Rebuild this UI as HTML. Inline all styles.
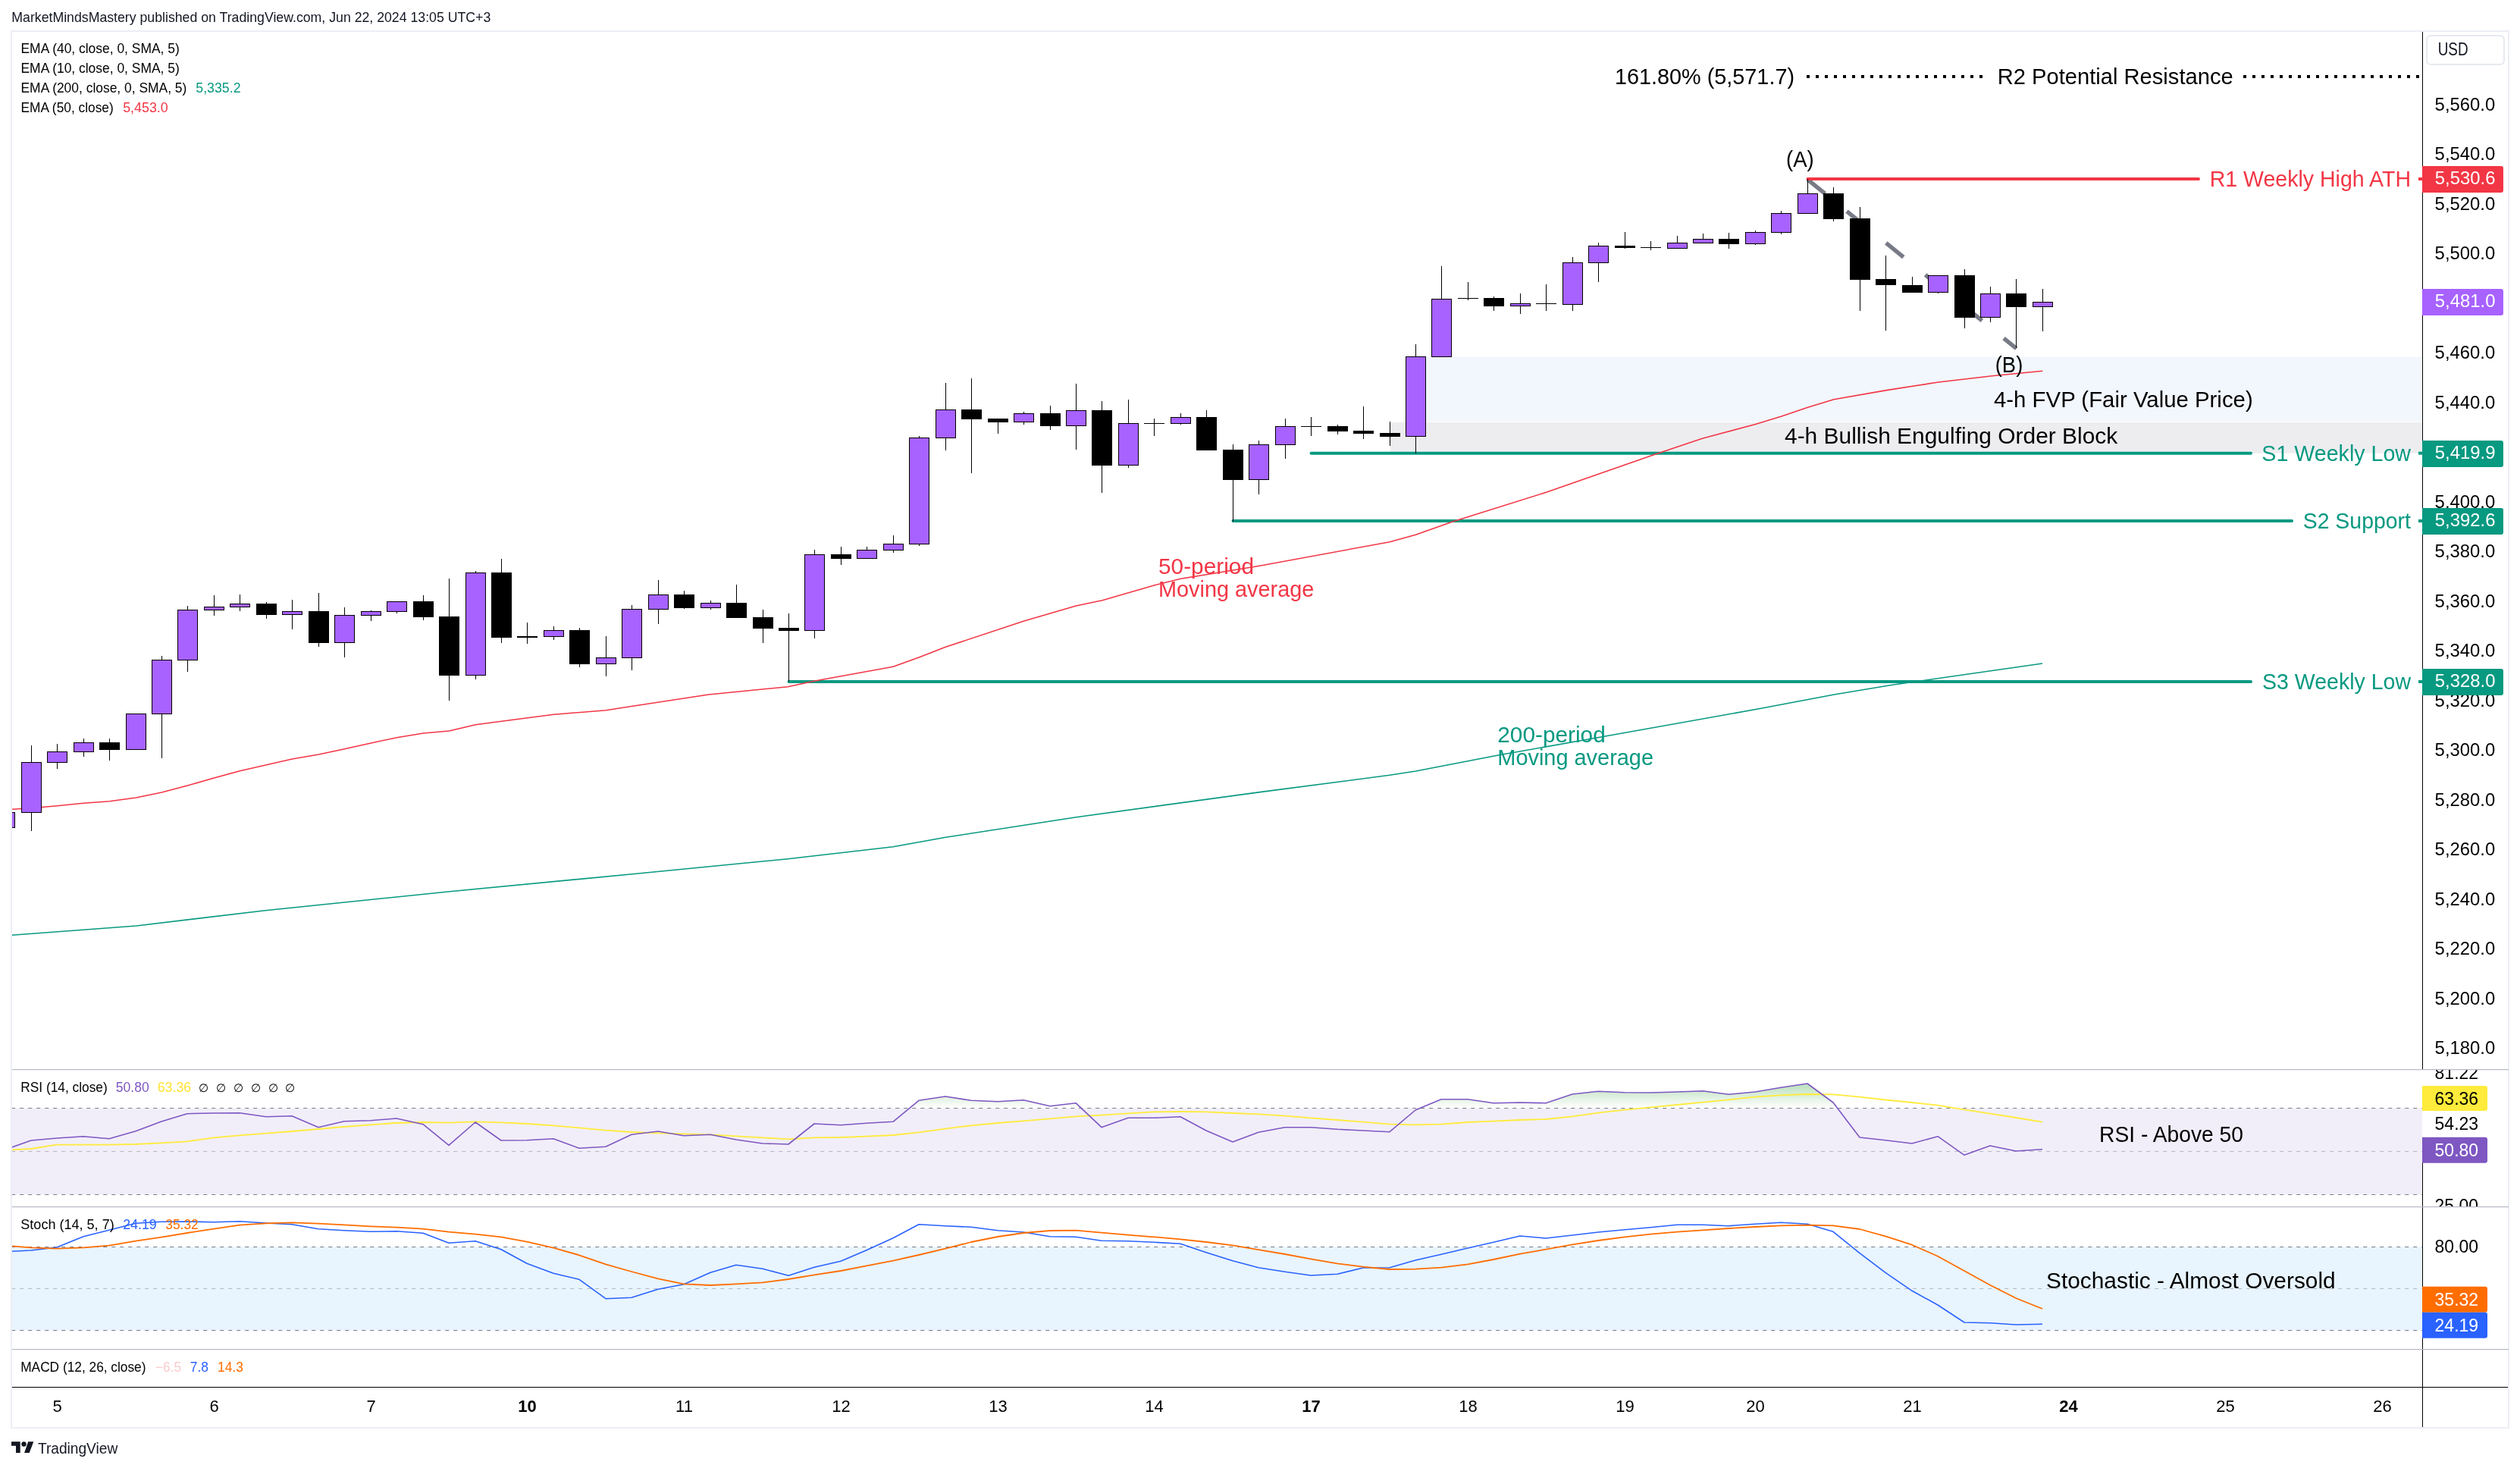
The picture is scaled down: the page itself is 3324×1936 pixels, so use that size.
<!DOCTYPE html>
<html><head><meta charset="utf-8"><title>TradingView chart</title>
<style>html,body{margin:0;padding:0;background:#fff}svg{display:block}text{font-family:'Liberation Sans', sans-serif}</style>
</head><body>
<svg width="3324" height="1936" viewBox="0 0 3324 1936">
<defs>
<clipPath id="cm"><rect x="16" y="42" width="3179" height="1369"/></clipPath>
<clipPath id="crsi"><rect x="16" y="1411" width="3293" height="180"/></clipPath>
<clipPath id="cst"><rect x="16" y="1592" width="3293" height="187"/></clipPath>
<linearGradient id="gob" gradientUnits="userSpaceOnUse" x1="0" y1="1410" x2="0" y2="1461.5">
<stop offset="0" stop-color="#4caf50" stop-opacity="0.62"/><stop offset="1" stop-color="#4caf50" stop-opacity="0"/></linearGradient>
<mask id="mall" maskUnits="userSpaceOnUse" x="0" y="0" width="3324" height="1936"><rect width="3324" height="1936" fill="#fff"/></mask>
</defs>
<rect width="3324" height="1936" fill="#fff"/>
<g mask="url(#mall)">
<text x="15.3" y="29.2" font-size="18.1" fill="#131722" textLength="632.0" lengthAdjust="spacingAndGlyphs">MarketMindsMastery published on TradingView.com, Jun 22, 2024 13:05 UTC+3</text>
<rect x="15" y="41" width="3294" height="1842" fill="#fff" stroke="#eceef5" stroke-width="2"/>
<g clip-path="url(#cm)">
<rect x="1867" y="470.7" width="1328" height="85.2" fill="#f2f6fd"/>
<rect x="1834" y="557" width="1361" height="40.7" fill="#ededf0"/>
<line x1="2384.2" y1="236.7" x2="2659.7" y2="459.6" stroke="#787b86" stroke-width="5.5" stroke-dasharray="29.7 36.9"/>
<g stroke-width="4" stroke-linecap="round">
<line x1="2384.5" y1="236" x2="2900" y2="236" stroke="#f23645"/>
<line x1="1729.5" y1="597.7" x2="2969" y2="597.7" stroke="#089981"/>
<line x1="1626.5" y1="687" x2="3023" y2="687" stroke="#089981"/>
<line x1="1040.5" y1="899" x2="2969" y2="899" stroke="#089981"/>
</g>
<line x1="3190" y1="236" x2="3195" y2="236" stroke="#f23645" stroke-width="4"/>
<line x1="3190" y1="597.7" x2="3195" y2="597.7" stroke="#089981" stroke-width="4"/>
<line x1="3190" y1="687" x2="3195" y2="687" stroke="#089981" stroke-width="4"/>
<line x1="3190" y1="899" x2="3195" y2="899" stroke="#089981" stroke-width="4"/>
<line x1="2383" y1="101" x2="2616" y2="101" stroke="#000" stroke-width="4" stroke-dasharray="4 8"/>
<line x1="2959" y1="101" x2="3195" y2="101" stroke="#000" stroke-width="4" stroke-dasharray="4 8"/>
<polyline fill="none" stroke="#089981" stroke-width="1.6" stroke-linejoin="round" points="15.3,1233.3 180.0,1221.0 350.0,1200.7 593.3,1175.7 834.0,1152.7 1039.0,1132.7 1178.0,1116.7 1247.3,1104.3 1419.3,1077.7 1662.0,1044.6 1833.0,1022.3 1867.3,1017.0 1976.0,996.0 2122.7,970.0 2322.7,934.3 2419.3,916.0 2496.0,903.3 2694.0,875.0"/>
<polyline fill="none" stroke="#f23645" stroke-width="1.6" stroke-linejoin="round" points="15.3,1067.3 41.3,1065.7 75.3,1062.7 110.0,1059.3 144.3,1056.7 179.3,1052.0 213.3,1045.0 247.3,1036.0 282.3,1026.0 316.3,1016.7 351.3,1008.7 385.3,1001.0 420.3,995.0 454.3,987.7 489.3,980.0 523.3,972.7 558.3,967.0 592.3,964.0 627.3,955.7 661.3,951.3 730.3,942.3 799.3,936.7 828.0,932.3 934.7,916.0 1039.0,905.7 1075.0,898.0 1178.0,879.3 1212.7,866.7 1247.3,853.3 1350.7,819.0 1419.3,799.0 1454.0,791.7 1523.0,771.7 1557.3,763.3 1660.0,746.5 1833.0,714.7 1867.3,705.3 1916.0,688.0 2039.5,649.3 2180.0,600.3 2245.4,578.2 2315.6,559.5 2350.0,548.9 2384.5,537.3 2419.0,526.8 2488.6,514.6 2555.0,504.3 2627.8,495.7 2694.3,489.3"/>
<g shape-rendering="crispEdges">
<rect x="6" y="1071" width="1" height="21" fill="#000"/>
<rect x="-7" y="1071" width="27" height="21" fill="#000"/>
<rect x="-6" y="1072" width="25" height="19" fill="#a762ff"/>
<rect x="41" y="983" width="1" height="113" fill="#000"/>
<rect x="28" y="1005" width="27" height="67" fill="#000"/>
<rect x="29" y="1006" width="25" height="65" fill="#a762ff"/>
<rect x="75" y="981" width="1" height="33" fill="#000"/>
<rect x="62" y="991" width="27" height="15" fill="#000"/>
<rect x="63" y="992" width="25" height="13" fill="#a762ff"/>
<rect x="110" y="974" width="1" height="24" fill="#000"/>
<rect x="97" y="979" width="27" height="13" fill="#000"/>
<rect x="98" y="980" width="25" height="11" fill="#a762ff"/>
<rect x="144" y="974" width="1" height="29" fill="#000"/>
<rect x="131" y="979" width="27" height="10" fill="#000"/>
<rect x="179" y="941" width="1" height="48" fill="#000"/>
<rect x="166" y="941" width="27" height="48" fill="#000"/>
<rect x="167" y="942" width="25" height="46" fill="#a762ff"/>
<rect x="213" y="865" width="1" height="135" fill="#000"/>
<rect x="200" y="870" width="27" height="72" fill="#000"/>
<rect x="201" y="871" width="25" height="70" fill="#a762ff"/>
<rect x="247" y="799" width="1" height="87" fill="#000"/>
<rect x="234" y="804" width="27" height="67" fill="#000"/>
<rect x="235" y="805" width="25" height="65" fill="#a762ff"/>
<rect x="282" y="785" width="1" height="27" fill="#000"/>
<rect x="269" y="800" width="27" height="5" fill="#000"/>
<rect x="270" y="801" width="25" height="3" fill="#a762ff"/>
<rect x="316" y="784" width="1" height="22" fill="#000"/>
<rect x="303" y="796" width="27" height="5" fill="#000"/>
<rect x="304" y="797" width="25" height="3" fill="#a762ff"/>
<rect x="351" y="794" width="1" height="22" fill="#000"/>
<rect x="338" y="796" width="27" height="15" fill="#000"/>
<rect x="385" y="791" width="1" height="39" fill="#000"/>
<rect x="372" y="806" width="27" height="5" fill="#000"/>
<rect x="373" y="807" width="25" height="3" fill="#a762ff"/>
<rect x="420" y="782" width="1" height="71" fill="#000"/>
<rect x="407" y="806" width="27" height="42" fill="#000"/>
<rect x="454" y="801" width="1" height="66" fill="#000"/>
<rect x="441" y="811" width="27" height="37" fill="#000"/>
<rect x="442" y="812" width="25" height="35" fill="#a762ff"/>
<rect x="489" y="805" width="1" height="14" fill="#000"/>
<rect x="476" y="806" width="27" height="6" fill="#000"/>
<rect x="477" y="807" width="25" height="4" fill="#a762ff"/>
<rect x="523" y="793" width="1" height="16" fill="#000"/>
<rect x="510" y="793" width="27" height="14" fill="#000"/>
<rect x="511" y="794" width="25" height="12" fill="#a762ff"/>
<rect x="558" y="785" width="1" height="33" fill="#000"/>
<rect x="545" y="793" width="27" height="21" fill="#000"/>
<rect x="592" y="763" width="1" height="161" fill="#000"/>
<rect x="579" y="813" width="27" height="78" fill="#000"/>
<rect x="627" y="753" width="1" height="143" fill="#000"/>
<rect x="614" y="755" width="27" height="136" fill="#000"/>
<rect x="615" y="756" width="25" height="134" fill="#a762ff"/>
<rect x="661" y="737" width="1" height="111" fill="#000"/>
<rect x="648" y="755" width="27" height="86" fill="#000"/>
<rect x="695" y="821" width="1" height="28" fill="#000"/>
<rect x="682" y="839" width="27" height="2" fill="#000"/>
<rect x="730" y="826" width="1" height="18" fill="#000"/>
<rect x="717" y="831" width="27" height="9" fill="#000"/>
<rect x="718" y="832" width="25" height="7" fill="#a762ff"/>
<rect x="764" y="828" width="1" height="52" fill="#000"/>
<rect x="751" y="831" width="27" height="45" fill="#000"/>
<rect x="799" y="839" width="1" height="53" fill="#000"/>
<rect x="786" y="867" width="27" height="9" fill="#000"/>
<rect x="787" y="868" width="25" height="7" fill="#a762ff"/>
<rect x="833" y="798" width="1" height="86" fill="#000"/>
<rect x="820" y="803" width="27" height="65" fill="#000"/>
<rect x="821" y="804" width="25" height="63" fill="#a762ff"/>
<rect x="868" y="765" width="1" height="58" fill="#000"/>
<rect x="855" y="784" width="27" height="20" fill="#000"/>
<rect x="856" y="785" width="25" height="18" fill="#a762ff"/>
<rect x="902" y="779" width="1" height="24" fill="#000"/>
<rect x="889" y="784" width="27" height="18" fill="#000"/>
<rect x="937" y="792" width="1" height="12" fill="#000"/>
<rect x="924" y="795" width="27" height="7" fill="#000"/>
<rect x="925" y="796" width="25" height="5" fill="#a762ff"/>
<rect x="971" y="771" width="1" height="44" fill="#000"/>
<rect x="958" y="795" width="27" height="20" fill="#000"/>
<rect x="1006" y="804" width="1" height="44" fill="#000"/>
<rect x="993" y="814" width="27" height="15" fill="#000"/>
<rect x="1040" y="809" width="1" height="90" fill="#000"/>
<rect x="1027" y="828" width="27" height="4" fill="#000"/>
<rect x="1074" y="725" width="1" height="117" fill="#000"/>
<rect x="1061" y="731" width="27" height="101" fill="#000"/>
<rect x="1062" y="732" width="25" height="99" fill="#a762ff"/>
<rect x="1109" y="721" width="1" height="24" fill="#000"/>
<rect x="1096" y="731" width="27" height="6" fill="#000"/>
<rect x="1143" y="721" width="1" height="16" fill="#000"/>
<rect x="1130" y="725" width="27" height="12" fill="#000"/>
<rect x="1131" y="726" width="25" height="10" fill="#a762ff"/>
<rect x="1178" y="706" width="1" height="23" fill="#000"/>
<rect x="1165" y="717" width="27" height="9" fill="#000"/>
<rect x="1166" y="718" width="25" height="7" fill="#a762ff"/>
<rect x="1212" y="575" width="1" height="145" fill="#000"/>
<rect x="1199" y="577" width="27" height="141" fill="#000"/>
<rect x="1200" y="578" width="25" height="139" fill="#a762ff"/>
<rect x="1247" y="505" width="1" height="89" fill="#000"/>
<rect x="1234" y="540" width="27" height="38" fill="#000"/>
<rect x="1235" y="541" width="25" height="36" fill="#a762ff"/>
<rect x="1281" y="499" width="1" height="125" fill="#000"/>
<rect x="1268" y="540" width="27" height="13" fill="#000"/>
<rect x="1316" y="552" width="1" height="20" fill="#000"/>
<rect x="1303" y="552" width="27" height="5" fill="#000"/>
<rect x="1350" y="543" width="1" height="17" fill="#000"/>
<rect x="1337" y="545" width="27" height="12" fill="#000"/>
<rect x="1338" y="546" width="25" height="10" fill="#a762ff"/>
<rect x="1385" y="535" width="1" height="32" fill="#000"/>
<rect x="1372" y="545" width="27" height="17" fill="#000"/>
<rect x="1419" y="506" width="1" height="87" fill="#000"/>
<rect x="1406" y="541" width="27" height="21" fill="#000"/>
<rect x="1407" y="542" width="25" height="19" fill="#a762ff"/>
<rect x="1453" y="529" width="1" height="121" fill="#000"/>
<rect x="1440" y="541" width="27" height="73" fill="#000"/>
<rect x="1488" y="527" width="1" height="90" fill="#000"/>
<rect x="1475" y="558" width="27" height="56" fill="#000"/>
<rect x="1476" y="559" width="25" height="54" fill="#a762ff"/>
<rect x="1522" y="552" width="1" height="23" fill="#000"/>
<rect x="1509" y="558" width="27" height="1" fill="#000"/>
<rect x="1557" y="545" width="1" height="15" fill="#000"/>
<rect x="1544" y="550" width="27" height="9" fill="#000"/>
<rect x="1545" y="551" width="25" height="7" fill="#a762ff"/>
<rect x="1591" y="541" width="1" height="53" fill="#000"/>
<rect x="1578" y="550" width="27" height="44" fill="#000"/>
<rect x="1626" y="586" width="1" height="102" fill="#000"/>
<rect x="1613" y="593" width="27" height="40" fill="#000"/>
<rect x="1660" y="581" width="1" height="71" fill="#000"/>
<rect x="1647" y="586" width="27" height="47" fill="#000"/>
<rect x="1648" y="587" width="25" height="45" fill="#a762ff"/>
<rect x="1695" y="552" width="1" height="53" fill="#000"/>
<rect x="1682" y="562" width="27" height="25" fill="#000"/>
<rect x="1683" y="563" width="25" height="23" fill="#a762ff"/>
<rect x="1729" y="550" width="1" height="25" fill="#000"/>
<rect x="1716" y="562" width="27" height="1" fill="#000"/>
<rect x="1764" y="560" width="1" height="13" fill="#000"/>
<rect x="1751" y="562" width="27" height="7" fill="#000"/>
<rect x="1798" y="536" width="1" height="43" fill="#000"/>
<rect x="1785" y="568" width="27" height="4" fill="#000"/>
<rect x="1833" y="556" width="1" height="32" fill="#000"/>
<rect x="1820" y="571" width="27" height="5" fill="#000"/>
<rect x="1867" y="454" width="1" height="144" fill="#000"/>
<rect x="1854" y="470" width="27" height="106" fill="#000"/>
<rect x="1855" y="471" width="25" height="104" fill="#a762ff"/>
<rect x="1901" y="351" width="1" height="120" fill="#000"/>
<rect x="1888" y="394" width="27" height="77" fill="#000"/>
<rect x="1889" y="395" width="25" height="75" fill="#a762ff"/>
<rect x="1936" y="372" width="1" height="24" fill="#000"/>
<rect x="1923" y="393" width="27" height="1" fill="#000"/>
<rect x="1970" y="391" width="1" height="19" fill="#000"/>
<rect x="1957" y="393" width="27" height="11" fill="#000"/>
<rect x="2005" y="387" width="1" height="27" fill="#000"/>
<rect x="1992" y="400" width="27" height="4" fill="#000"/>
<rect x="1993" y="401" width="25" height="2" fill="#a762ff"/>
<rect x="2039" y="375" width="1" height="35" fill="#000"/>
<rect x="2026" y="400" width="27" height="1" fill="#000"/>
<rect x="2074" y="339" width="1" height="71" fill="#000"/>
<rect x="2061" y="346" width="27" height="56" fill="#000"/>
<rect x="2062" y="347" width="25" height="54" fill="#a762ff"/>
<rect x="2108" y="320" width="1" height="52" fill="#000"/>
<rect x="2095" y="324" width="27" height="23" fill="#000"/>
<rect x="2096" y="325" width="25" height="21" fill="#a762ff"/>
<rect x="2143" y="306" width="1" height="22" fill="#000"/>
<rect x="2130" y="324" width="27" height="3" fill="#000"/>
<rect x="2177" y="318" width="1" height="12" fill="#000"/>
<rect x="2164" y="326" width="27" height="1" fill="#000"/>
<rect x="2212" y="311" width="1" height="17" fill="#000"/>
<rect x="2199" y="320" width="27" height="8" fill="#000"/>
<rect x="2200" y="321" width="25" height="6" fill="#a762ff"/>
<rect x="2246" y="308" width="1" height="13" fill="#000"/>
<rect x="2233" y="315" width="27" height="6" fill="#000"/>
<rect x="2234" y="316" width="25" height="4" fill="#a762ff"/>
<rect x="2280" y="307" width="1" height="21" fill="#000"/>
<rect x="2267" y="315" width="27" height="7" fill="#000"/>
<rect x="2315" y="304" width="1" height="19" fill="#000"/>
<rect x="2302" y="306" width="27" height="16" fill="#000"/>
<rect x="2303" y="307" width="25" height="14" fill="#a762ff"/>
<rect x="2349" y="278" width="1" height="31" fill="#000"/>
<rect x="2336" y="281" width="27" height="26" fill="#000"/>
<rect x="2337" y="282" width="25" height="24" fill="#a762ff"/>
<rect x="2384" y="236" width="1" height="46" fill="#000"/>
<rect x="2371" y="255" width="27" height="27" fill="#000"/>
<rect x="2372" y="256" width="25" height="25" fill="#a762ff"/>
<rect x="2418" y="247" width="1" height="45" fill="#000"/>
<rect x="2405" y="255" width="27" height="34" fill="#000"/>
<rect x="2453" y="273" width="1" height="137" fill="#000"/>
<rect x="2440" y="288" width="27" height="81" fill="#000"/>
<rect x="2487" y="337" width="1" height="99" fill="#000"/>
<rect x="2474" y="368" width="27" height="8" fill="#000"/>
<rect x="2522" y="365" width="1" height="21" fill="#000"/>
<rect x="2509" y="376" width="27" height="10" fill="#000"/>
<rect x="2556" y="363" width="1" height="24" fill="#000"/>
<rect x="2543" y="363" width="27" height="23" fill="#000"/>
<rect x="2544" y="364" width="25" height="21" fill="#a762ff"/>
<rect x="2591" y="355" width="1" height="78" fill="#000"/>
<rect x="2578" y="363" width="27" height="56" fill="#000"/>
<rect x="2625" y="378" width="1" height="47" fill="#000"/>
<rect x="2612" y="387" width="27" height="32" fill="#000"/>
<rect x="2613" y="388" width="25" height="30" fill="#a762ff"/>
<rect x="2659" y="368" width="1" height="91" fill="#000"/>
<rect x="2646" y="387" width="27" height="18" fill="#000"/>
<rect x="2694" y="381" width="1" height="56" fill="#000"/>
<rect x="2681" y="398" width="27" height="7" fill="#000"/>
<rect x="2682" y="399" width="25" height="5" fill="#a762ff"/>
</g>
</g>
<text x="2130.0" y="110.5" font-size="29" fill="#000" textLength="237.0" lengthAdjust="spacingAndGlyphs">161.80% (5,571.7)</text>
<text x="2634.7" y="110.5" font-size="29" fill="#000" textLength="311.0" lengthAdjust="spacingAndGlyphs">R2 Potential Resistance</text>
<text x="2356.0" y="220.0" font-size="29" fill="#000" textLength="36.7" lengthAdjust="spacingAndGlyphs">(A)</text>
<text x="2631.7" y="490.7" font-size="29" fill="#000" textLength="36.6" lengthAdjust="spacingAndGlyphs">(B)</text>
<text x="2914.7" y="245.7" font-size="29" fill="#f23645" textLength="265.3" lengthAdjust="spacingAndGlyphs">R1 Weekly High ATH</text>
<text x="2630.0" y="536.7" font-size="29" fill="#000" textLength="341.7" lengthAdjust="spacingAndGlyphs">4-h FVP (Fair Value Price)</text>
<text x="2354.0" y="585.0" font-size="29" fill="#000" textLength="439.3" lengthAdjust="spacingAndGlyphs">4-h Bullish Engulfing Order Block</text>
<text x="2983.3" y="607.9" font-size="29" fill="#089981" textLength="196.7" lengthAdjust="spacingAndGlyphs">S1 Weekly Low</text>
<text x="3037.7" y="697.1" font-size="29" fill="#089981" textLength="142.3" lengthAdjust="spacingAndGlyphs">S2 Support</text>
<text x="2984.0" y="908.9" font-size="29" fill="#089981" textLength="196.0" lengthAdjust="spacingAndGlyphs">S3 Weekly Low</text>
<text x="1528.0" y="756.7" font-size="29" fill="#f23645" textLength="126.0" lengthAdjust="spacingAndGlyphs">50-period</text>
<text x="1528.0" y="786.7" font-size="29" fill="#f23645" textLength="205.3" lengthAdjust="spacingAndGlyphs">Moving average</text>
<text x="1975.3" y="979.0" font-size="29" fill="#089981" textLength="142.4" lengthAdjust="spacingAndGlyphs">200-period</text>
<text x="1975.3" y="1009.0" font-size="29" fill="#089981" textLength="205.7" lengthAdjust="spacingAndGlyphs">Moving average</text>
<text x="27.5" y="69.7" font-size="17.8" fill="#000" textLength="209.2" lengthAdjust="spacingAndGlyphs">EMA (40, close, 0, SMA, 5)</text>
<text x="27.5" y="95.8" font-size="17.8" fill="#000" textLength="209.2" lengthAdjust="spacingAndGlyphs">EMA (10, close, 0, SMA, 5)</text>
<text x="27.5" y="122.0" font-size="17.8" fill="#000" textLength="218.8" lengthAdjust="spacingAndGlyphs">EMA (200, close, 0, SMA, 5)</text>
<text x="258.3" y="122.0" font-size="17.8" fill="#089981" textLength="59.2" lengthAdjust="spacingAndGlyphs">5,335.2</text>
<text x="27.5" y="148.0" font-size="17.8" fill="#000" textLength="122.2" lengthAdjust="spacingAndGlyphs">EMA (50, close)</text>
<text x="162.2" y="148.0" font-size="17.8" fill="#f23645" textLength="59.5" lengthAdjust="spacingAndGlyphs">5,453.0</text>
<rect x="3195" y="42" width="1" height="1840" fill="#000"/>
<rect x="3195" y="1411" width="1" height="122" fill="#fff"/>
<rect x="3201" y="47" width="102" height="38" rx="5" fill="#fff" stroke="#e0e3eb" stroke-width="1.5"/>
<text x="3215.7" y="73.3" font-size="23" fill="#131722" textLength="40.0" lengthAdjust="spacingAndGlyphs">USD</text>
<text x="3211.6" y="145.8" font-size="23" fill="#000" textLength="79.7" lengthAdjust="spacingAndGlyphs">5,560.0</text>
<text x="3211.6" y="211.3" font-size="23" fill="#000" textLength="79.7" lengthAdjust="spacingAndGlyphs">5,540.0</text>
<text x="3211.6" y="276.8" font-size="23" fill="#000" textLength="79.7" lengthAdjust="spacingAndGlyphs">5,520.0</text>
<text x="3211.6" y="342.3" font-size="23" fill="#000" textLength="79.7" lengthAdjust="spacingAndGlyphs">5,500.0</text>
<text x="3211.6" y="407.8" font-size="23" fill="#000" textLength="79.7" lengthAdjust="spacingAndGlyphs">5,480.0</text>
<text x="3211.6" y="473.3" font-size="23" fill="#000" textLength="79.7" lengthAdjust="spacingAndGlyphs">5,460.0</text>
<text x="3211.6" y="538.8" font-size="23" fill="#000" textLength="79.7" lengthAdjust="spacingAndGlyphs">5,440.0</text>
<text x="3211.6" y="604.3" font-size="23" fill="#000" textLength="79.7" lengthAdjust="spacingAndGlyphs">5,420.0</text>
<text x="3211.6" y="669.8" font-size="23" fill="#000" textLength="79.7" lengthAdjust="spacingAndGlyphs">5,400.0</text>
<text x="3211.6" y="735.3" font-size="23" fill="#000" textLength="79.7" lengthAdjust="spacingAndGlyphs">5,380.0</text>
<text x="3211.6" y="800.7" font-size="23" fill="#000" textLength="79.7" lengthAdjust="spacingAndGlyphs">5,360.0</text>
<text x="3211.6" y="866.2" font-size="23" fill="#000" textLength="79.7" lengthAdjust="spacingAndGlyphs">5,340.0</text>
<text x="3211.6" y="931.7" font-size="23" fill="#000" textLength="79.7" lengthAdjust="spacingAndGlyphs">5,320.0</text>
<text x="3211.6" y="997.2" font-size="23" fill="#000" textLength="79.7" lengthAdjust="spacingAndGlyphs">5,300.0</text>
<text x="3211.6" y="1062.7" font-size="23" fill="#000" textLength="79.7" lengthAdjust="spacingAndGlyphs">5,280.0</text>
<text x="3211.6" y="1128.2" font-size="23" fill="#000" textLength="79.7" lengthAdjust="spacingAndGlyphs">5,260.0</text>
<text x="3211.6" y="1193.7" font-size="23" fill="#000" textLength="79.7" lengthAdjust="spacingAndGlyphs">5,240.0</text>
<text x="3211.6" y="1259.2" font-size="23" fill="#000" textLength="79.7" lengthAdjust="spacingAndGlyphs">5,220.0</text>
<text x="3211.6" y="1324.7" font-size="23" fill="#000" textLength="79.7" lengthAdjust="spacingAndGlyphs">5,200.0</text>
<text x="3211.6" y="1390.2" font-size="23" fill="#000" textLength="79.7" lengthAdjust="spacingAndGlyphs">5,180.0</text>
<path d="M3195 219.0H3299a3 3 0 0 1 3 3V251.0a3 3 0 0 1 -3 3H3195Z" fill="#f23645"/>
<text x="3211.8" y="243.2" font-size="23" fill="#fff" textLength="79.7" lengthAdjust="spacingAndGlyphs">5,530.6</text>
<path d="M3195 381.0H3299a3 3 0 0 1 3 3V413.0a3 3 0 0 1 -3 3H3195Z" fill="#a762ff"/>
<text x="3211.8" y="405.2" font-size="23" fill="#fff" textLength="79.7" lengthAdjust="spacingAndGlyphs">5,481.0</text>
<path d="M3195 581.0H3299a3 3 0 0 1 3 3V613.0a3 3 0 0 1 -3 3H3195Z" fill="#089981"/>
<text x="3211.8" y="605.2" font-size="23" fill="#fff" textLength="79.7" lengthAdjust="spacingAndGlyphs">5,419.9</text>
<path d="M3195 670.0H3299a3 3 0 0 1 3 3V702.0a3 3 0 0 1 -3 3H3195Z" fill="#089981"/>
<text x="3211.8" y="694.2" font-size="23" fill="#fff" textLength="79.7" lengthAdjust="spacingAndGlyphs">5,392.6</text>
<path d="M3195 882.0H3299a3 3 0 0 1 3 3V914.0a3 3 0 0 1 -3 3H3195Z" fill="#089981"/>
<text x="3211.8" y="906.2" font-size="23" fill="#fff" textLength="79.7" lengthAdjust="spacingAndGlyphs">5,328.0</text>
<g clip-path="url(#crsi)">
<rect x="16" y="1461.5" width="3179" height="114" fill="#f1eef9"/>
<polygon fill="url(#gob)" points="1199.7,1461.5 1212.0,1451.3 1247.0,1446.0 1281.0,1451.3 1316.0,1452.7 1350.0,1450.7 1385.0,1458.7 1419.0,1454.7 1426.3,1461.5"/>
<polygon fill="url(#gob)" points="1872.9,1461.5 1901.0,1449.7 1936.0,1449.7 1970.0,1454.7 2005.0,1454.0 2039.0,1454.7 2074.0,1443.0 2108.0,1439.3 2143.0,1440.7 2177.0,1441.0 2212.0,1440.0 2246.0,1438.7 2280.0,1443.3 2315.0,1440.0 2349.0,1434.3 2384.0,1429.0 2418.0,1454.0 2423.7,1461.5"/>
<line x1="16" y1="1461.5" x2="3195" y2="1461.5" stroke="#787b86" stroke-width="1.2" stroke-dasharray="5 6" stroke-dashoffset="0.8"/>
<line x1="16" y1="1518.5" x2="3195" y2="1518.5" stroke="#b5b7c0" stroke-width="1.2" stroke-dasharray="5 6" stroke-dashoffset="0.8"/>
<line x1="16" y1="1575.5" x2="3195" y2="1575.5" stroke="#787b86" stroke-width="1.2" stroke-dasharray="5 6" stroke-dashoffset="0.8"/>
<polyline fill="none" stroke="#ffeb3b" stroke-width="1.8" stroke-linejoin="round" points="6.0,1516.8 41.0,1515.0 75.0,1509.7 110.0,1509.7 144.0,1509.7 179.0,1509.0 213.0,1507.3 247.0,1505.3 282.0,1500.3 316.0,1497.3 351.0,1494.7 385.0,1492.0 420.0,1489.0 454.0,1486.0 489.0,1483.3 523.0,1481.0 558.0,1480.0 592.0,1480.7 627.0,1479.3 661.0,1480.3 695.0,1482.0 730.0,1484.3 764.0,1487.3 799.0,1490.7 833.0,1493.0 868.0,1494.3 902.0,1495.3 937.0,1496.3 971.0,1498.3 1006.0,1500.3 1040.0,1502.3 1074.0,1500.3 1109.0,1500.0 1143.0,1498.7 1178.0,1497.0 1212.0,1493.3 1247.0,1488.7 1281.0,1484.3 1316.0,1481.0 1350.0,1478.3 1385.0,1475.3 1419.0,1472.3 1453.0,1470.7 1488.0,1468.3 1522.0,1466.3 1557.0,1466.0 1591.0,1466.3 1626.0,1468.0 1660.0,1469.3 1695.0,1471.7 1729.0,1474.3 1764.0,1477.0 1798.0,1479.7 1833.0,1482.7 1867.0,1483.3 1901.0,1482.7 1936.0,1480.0 1970.0,1478.7 2005.0,1477.0 2039.0,1476.0 2074.0,1472.3 2108.0,1467.7 2143.0,1463.7 2177.0,1460.3 2212.0,1457.0 2246.0,1453.7 2280.0,1450.3 2315.0,1446.7 2349.0,1444.3 2384.0,1443.0 2418.0,1443.3 2453.0,1446.7 2487.0,1450.5 2522.0,1454.0 2556.0,1457.7 2591.0,1463.3 2625.0,1468.7 2659.0,1474.0 2694.0,1479.7"/>
<polyline fill="none" stroke="#7e57c2" stroke-width="1.6" stroke-linejoin="round" points="6.0,1516.4 41.0,1504.0 75.0,1501.0 110.0,1498.7 144.0,1501.7 179.0,1491.7 213.0,1479.0 247.0,1468.7 282.0,1468.0 316.0,1467.7 351.0,1472.7 385.0,1471.7 420.0,1486.7 454.0,1478.7 489.0,1477.7 523.0,1475.0 558.0,1482.7 592.0,1510.3 627.0,1480.0 661.0,1504.0 695.0,1503.7 730.0,1501.7 764.0,1514.3 799.0,1512.3 833.0,1496.3 868.0,1492.0 902.0,1497.7 937.0,1496.3 971.0,1503.0 1006.0,1508.0 1040.0,1509.0 1074.0,1482.0 1109.0,1483.7 1143.0,1481.3 1178.0,1479.3 1212.0,1451.3 1247.0,1446.0 1281.0,1451.3 1316.0,1452.7 1350.0,1450.7 1385.0,1458.7 1419.0,1454.7 1453.0,1486.7 1488.0,1474.3 1522.0,1474.3 1557.0,1472.7 1591.0,1491.0 1626.0,1506.0 1660.0,1493.3 1695.0,1486.7 1729.0,1486.7 1764.0,1489.3 1798.0,1491.0 1833.0,1492.7 1867.0,1464.0 1901.0,1449.7 1936.0,1449.7 1970.0,1454.7 2005.0,1454.0 2039.0,1454.7 2074.0,1443.0 2108.0,1439.3 2143.0,1440.7 2177.0,1441.0 2212.0,1440.0 2246.0,1438.7 2280.0,1443.3 2315.0,1440.0 2349.0,1434.3 2384.0,1429.0 2418.0,1454.0 2453.0,1500.0 2487.0,1503.7 2522.0,1508.0 2556.0,1498.7 2591.0,1523.3 2625.0,1511.0 2659.0,1518.0 2694.0,1515.7"/>
</g>
<text x="27.3" y="1440.0" font-size="17.8" fill="#000" textLength="114.4" lengthAdjust="spacingAndGlyphs">RSI (14, close)</text>
<text x="152.7" y="1440.0" font-size="17.8" fill="#7e57c2" textLength="44.0" lengthAdjust="spacingAndGlyphs">50.80</text>
<text x="207.7" y="1440.0" font-size="17.8" fill="#ffe234" textLength="44.6" lengthAdjust="spacingAndGlyphs">63.36</text>
<text x="268.3" y="1439.5" font-size="14.5" fill="#000" text-anchor="middle">∅</text>
<text x="291.0" y="1439.5" font-size="14.5" fill="#000" text-anchor="middle">∅</text>
<text x="314.3" y="1439.5" font-size="14.5" fill="#000" text-anchor="middle">∅</text>
<text x="337.0" y="1439.5" font-size="14.5" fill="#000" text-anchor="middle">∅</text>
<text x="360.0" y="1439.5" font-size="14.5" fill="#000" text-anchor="middle">∅</text>
<text x="382.7" y="1439.5" font-size="14.5" fill="#000" text-anchor="middle">∅</text>
<text x="2769.0" y="1506.0" font-size="29" fill="#000" textLength="190.0" lengthAdjust="spacingAndGlyphs">RSI - Above 50</text>
<g clip-path="url(#crsi)">
<text x="3211.6" y="1422.7" font-size="23" fill="#000" textLength="57.5" lengthAdjust="spacingAndGlyphs">81.22</text>
<text x="3211.6" y="1490.1" font-size="23" fill="#000" textLength="57.5" lengthAdjust="spacingAndGlyphs">54.23</text>
<text x="3211.6" y="1597.6" font-size="23" fill="#000" textLength="57.5" lengthAdjust="spacingAndGlyphs">25.00</text>
</g>
<path d="M3195 1431.9H3278a3 3 0 0 1 3 3V1461.9a3 3 0 0 1 -3 3H3195Z" fill="#ffeb3b"/>
<text x="3211.6" y="1456.7" font-size="23" fill="#000" textLength="57.5" lengthAdjust="spacingAndGlyphs">63.36</text>
<path d="M3195 1499.7H3278a3 3 0 0 1 3 3V1530.7a3 3 0 0 1 -3 3H3195Z" fill="#7e57c2"/>
<text x="3211.6" y="1524.7" font-size="23" fill="#fff" textLength="57.5" lengthAdjust="spacingAndGlyphs">50.80</text>
<g clip-path="url(#cst)">
<rect x="16" y="1644.5" width="3179" height="110" fill="#e8f4fe"/>
<line x1="16" y1="1644.5" x2="3195" y2="1644.5" stroke="#787b86" stroke-width="1.2" stroke-dasharray="5 6" stroke-dashoffset="0.8"/>
<line x1="16" y1="1699.5" x2="3195" y2="1699.5" stroke="#b5b7c0" stroke-width="1.2" stroke-dasharray="5 6" stroke-dashoffset="0.8"/>
<line x1="16" y1="1754.5" x2="3195" y2="1754.5" stroke="#787b86" stroke-width="1.2" stroke-dasharray="5 6" stroke-dashoffset="0.8"/>
<polyline fill="none" stroke="#2962ff" stroke-width="1.6" stroke-linejoin="round" points="6.0,1650.8 41.0,1649.0 75.0,1645.0 110.0,1630.7 144.0,1622.3 179.0,1613.3 213.0,1611.3 247.0,1611.0 282.0,1611.7 316.0,1610.7 351.0,1613.0 385.0,1614.7 420.0,1620.7 454.0,1622.7 489.0,1624.3 523.0,1623.7 558.0,1626.3 592.0,1639.3 627.0,1636.7 661.0,1647.7 695.0,1666.3 730.0,1679.3 764.0,1687.3 799.0,1712.7 833.0,1711.2 868.0,1700.3 902.0,1693.7 937.0,1678.3 971.0,1668.3 1006.0,1673.3 1040.0,1682.3 1074.0,1671.3 1109.0,1663.3 1143.0,1648.7 1178.0,1632.7 1212.0,1614.7 1247.0,1616.7 1281.0,1618.3 1316.0,1622.7 1350.0,1625.0 1385.0,1630.7 1419.0,1631.3 1453.0,1636.3 1488.0,1636.7 1522.0,1638.3 1557.0,1640.3 1591.0,1651.7 1626.0,1662.7 1660.0,1671.7 1695.0,1677.3 1729.0,1682.0 1764.0,1680.3 1798.0,1672.0 1833.0,1671.7 1867.0,1662.0 1901.0,1654.3 1936.0,1646.0 1970.0,1638.3 2005.0,1630.0 2039.0,1633.0 2074.0,1629.0 2108.0,1625.0 2143.0,1621.7 2177.0,1618.7 2212.0,1615.3 2246.0,1615.3 2280.0,1616.7 2315.0,1614.3 2349.0,1612.3 2384.0,1614.3 2418.0,1624.3 2453.0,1652.7 2487.0,1678.3 2522.0,1702.3 2556.0,1721.0 2591.0,1744.0 2625.0,1744.7 2659.0,1747.0 2694.0,1746.3"/>
<polyline fill="none" stroke="#ff6d00" stroke-width="1.8" stroke-linejoin="round" points="6.0,1642.7 41.0,1645.3 75.0,1646.7 110.0,1645.3 144.0,1642.7 179.0,1636.7 213.0,1631.7 247.0,1626.0 282.0,1620.7 316.0,1615.7 351.0,1613.3 385.0,1612.3 420.0,1613.7 454.0,1615.3 489.0,1617.3 523.0,1618.7 558.0,1620.7 592.0,1624.7 627.0,1627.7 661.0,1631.3 695.0,1637.7 730.0,1645.7 764.0,1655.3 799.0,1667.3 833.0,1677.0 868.0,1686.3 902.0,1693.3 937.0,1695.0 971.0,1693.3 1006.0,1691.3 1040.0,1687.0 1074.0,1681.3 1109.0,1676.0 1143.0,1669.3 1178.0,1662.7 1212.0,1655.0 1247.0,1646.7 1281.0,1638.0 1316.0,1631.0 1350.0,1626.0 1385.0,1623.0 1419.0,1622.7 1453.0,1625.7 1488.0,1628.7 1522.0,1631.3 1557.0,1634.3 1591.0,1638.0 1626.0,1642.3 1660.0,1648.2 1695.0,1654.0 1729.0,1660.3 1764.0,1666.3 1798.0,1670.7 1833.0,1674.0 1867.0,1673.7 1901.0,1671.7 1936.0,1667.3 1970.0,1661.0 2005.0,1653.7 2039.0,1647.7 2074.0,1641.3 2108.0,1636.0 2143.0,1631.3 2177.0,1627.7 2212.0,1624.7 2246.0,1622.3 2280.0,1620.0 2315.0,1618.0 2349.0,1616.3 2384.0,1615.7 2418.0,1616.3 2453.0,1621.0 2487.0,1630.3 2522.0,1641.7 2556.0,1656.7 2591.0,1676.0 2625.0,1694.7 2659.0,1712.0 2694.0,1726.0"/>
</g>
<text x="27.3" y="1620.7" font-size="17.8" fill="#000" textLength="123.4" lengthAdjust="spacingAndGlyphs">Stoch (14, 5, 7)</text>
<text x="162.3" y="1620.7" font-size="17.8" fill="#2962ff" textLength="44.4" lengthAdjust="spacingAndGlyphs">24.19</text>
<text x="218.3" y="1620.7" font-size="17.8" fill="#ff6d00" textLength="43.4" lengthAdjust="spacingAndGlyphs">35.32</text>
<text x="2699.0" y="1699.3" font-size="29" fill="#000" textLength="381.7" lengthAdjust="spacingAndGlyphs">Stochastic - Almost Oversold</text>
<text x="3211.6" y="1652.2" font-size="23" fill="#000" textLength="57.5" lengthAdjust="spacingAndGlyphs">80.00</text>
<path d="M3195 1696.7H3278a3 3 0 0 1 3 3V1727.7a3 3 0 0 1 -3 3H3195Z" fill="#ff6d00"/>
<text x="3211.6" y="1721.7" font-size="23" fill="#fff" textLength="57.5" lengthAdjust="spacingAndGlyphs">35.32</text>
<path d="M3195 1730.7H3278a3 3 0 0 1 3 3V1761.7a3 3 0 0 1 -3 3H3195Z" fill="#2962ff"/>
<text x="3211.6" y="1755.7" font-size="23" fill="#fff" textLength="57.5" lengthAdjust="spacingAndGlyphs">24.19</text>
<text x="27.2" y="1809.2" font-size="17.8" fill="#000" textLength="165.3" lengthAdjust="spacingAndGlyphs">MACD (12, 26, close)</text>
<text x="205.0" y="1809.2" font-size="17.8" fill="#fccbcd" textLength="34.0" lengthAdjust="spacingAndGlyphs">−6.5</text>
<text x="250.8" y="1809.2" font-size="17.8" fill="#2962ff" textLength="24.2" lengthAdjust="spacingAndGlyphs">7.8</text>
<text x="287.0" y="1809.2" font-size="17.8" fill="#ff6d00" textLength="33.8" lengthAdjust="spacingAndGlyphs">14.3</text>
<rect x="16" y="1410" width="3293" height="1.2" fill="#b5b8c5"/>
<rect x="16" y="1591" width="3293" height="1.2" fill="#b5b8c5"/>
<rect x="16" y="1779" width="3293" height="1.2" fill="#b5b8c5"/>
<rect x="16" y="1829" width="3292" height="1" fill="#000"/>
<text x="75.5" y="1862.3" font-size="22" fill="#000" text-anchor="middle">5</text>
<text x="282.5" y="1862.3" font-size="22" fill="#000" text-anchor="middle">6</text>
<text x="489.5" y="1862.3" font-size="22" fill="#000" text-anchor="middle">7</text>
<text x="695.5" y="1862.3" font-size="22" fill="#000" text-anchor="middle" font-weight="bold">10</text>
<text x="902.5" y="1862.3" font-size="22" fill="#000" text-anchor="middle">11</text>
<text x="1109.5" y="1862.3" font-size="22" fill="#000" text-anchor="middle">12</text>
<text x="1316.5" y="1862.3" font-size="22" fill="#000" text-anchor="middle">13</text>
<text x="1522.5" y="1862.3" font-size="22" fill="#000" text-anchor="middle">14</text>
<text x="1729.5" y="1862.3" font-size="22" fill="#000" text-anchor="middle" font-weight="bold">17</text>
<text x="1936.5" y="1862.3" font-size="22" fill="#000" text-anchor="middle">18</text>
<text x="2143.5" y="1862.3" font-size="22" fill="#000" text-anchor="middle">19</text>
<text x="2315.5" y="1862.3" font-size="22" fill="#000" text-anchor="middle">20</text>
<text x="2522.5" y="1862.3" font-size="22" fill="#000" text-anchor="middle">21</text>
<text x="2728.5" y="1862.3" font-size="22" fill="#000" text-anchor="middle" font-weight="bold">24</text>
<text x="2935.5" y="1862.3" font-size="22" fill="#000" text-anchor="middle">25</text>
<text x="3142.5" y="1862.3" font-size="22" fill="#000" text-anchor="middle">26</text>
<g fill="#131722"><path d="M15 1901.3H26.7V1915.9H21V1906.7H15Z"/><circle cx="31.5" cy="1904.5" r="3.2"/><path d="M37.2 1901.3H44.3L38.7 1915.9H32.1Z"/></g>
<text x="49.9" y="1916.7" font-size="19.9" fill="#131722" textLength="105.4" lengthAdjust="spacingAndGlyphs">TradingView</text>
</g></svg></body></html>
